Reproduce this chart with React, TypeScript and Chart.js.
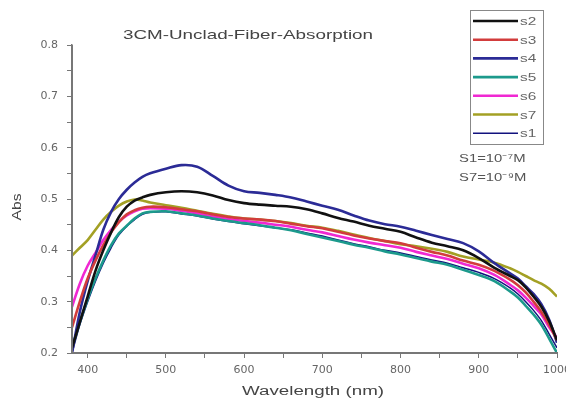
import React, { useEffect, useRef } from "react";
import { Chart, registerables } from "chart.js";

Chart.register(...registerables);

const wavelengths = [380, 390, 400, 410, 420, 430, 440, 450, 460, 470, 480, 500, 520, 540, 560, 580, 600, 620, 640, 660, 680, 700, 720, 740, 760, 780, 800, 820, 840, 860, 880, 900, 920, 940, 950, 960, 970, 980, 990, 1000];

const s2 = [0.21, 0.26, 0.31, 0.36, 0.40, 0.435, 0.465, 0.485, 0.497, 0.503, 0.508, 0.513, 0.515, 0.513, 0.507, 0.498, 0.492, 0.489, 0.487, 0.485, 0.480, 0.472, 0.463, 0.456, 0.448, 0.442, 0.436, 0.425, 0.415, 0.408, 0.400, 0.385, 0.366, 0.350, 0.342, 0.328, 0.310, 0.290, 0.262, 0.225];
const s3 = [0.25, 0.30, 0.345, 0.38, 0.41, 0.435, 0.455, 0.47, 0.478, 0.483, 0.485, 0.484, 0.480, 0.476, 0.470, 0.465, 0.462, 0.460, 0.457, 0.452, 0.447, 0.443, 0.436, 0.429, 0.423, 0.418, 0.414, 0.405, 0.397, 0.390, 0.380, 0.372, 0.360, 0.343, 0.332, 0.318, 0.300, 0.280, 0.255, 0.225];
const s4 = [0.20, 0.28, 0.34, 0.39, 0.44, 0.475, 0.50, 0.518, 0.532, 0.543, 0.550, 0.559, 0.566, 0.563, 0.545, 0.526, 0.515, 0.512, 0.508, 0.503, 0.495, 0.487, 0.479, 0.468, 0.458, 0.451, 0.446, 0.438, 0.430, 0.422, 0.414, 0.398, 0.375, 0.355, 0.345, 0.330, 0.315, 0.295, 0.265, 0.22];
const s5 = [0.21, 0.26, 0.305, 0.345, 0.38, 0.41, 0.433, 0.448, 0.462, 0.472, 0.475, 0.476, 0.472, 0.468, 0.462, 0.457, 0.453, 0.449, 0.444, 0.439, 0.432, 0.425, 0.418, 0.411, 0.405, 0.398, 0.392, 0.385, 0.378, 0.372, 0.362, 0.352, 0.340, 0.320, 0.308, 0.292, 0.275, 0.255, 0.228, 0.20];
const s6 = [0.29, 0.335, 0.37, 0.395, 0.42, 0.44, 0.456, 0.468, 0.476, 0.481, 0.482, 0.481, 0.477, 0.472, 0.466, 0.461, 0.457, 0.454, 0.450, 0.446, 0.440, 0.435, 0.428, 0.421, 0.415, 0.410, 0.405, 0.397, 0.390, 0.383, 0.374, 0.365, 0.352, 0.333, 0.322, 0.308, 0.292, 0.275, 0.250, 0.23];
const s7 = [0.39, 0.405, 0.42, 0.44, 0.46, 0.475, 0.487, 0.495, 0.499, 0.497, 0.493, 0.488, 0.483, 0.477, 0.471, 0.466, 0.462, 0.460, 0.457, 0.453, 0.448, 0.444, 0.438, 0.431, 0.424, 0.418, 0.412, 0.408, 0.403, 0.397, 0.388, 0.382, 0.376, 0.365, 0.358, 0.350, 0.342, 0.335, 0.325, 0.31];
const s1 = [0.20, 0.255, 0.30, 0.34, 0.375, 0.405, 0.43, 0.447, 0.46, 0.47, 0.474, 0.475, 0.471, 0.467, 0.461, 0.456, 0.452, 0.448, 0.444, 0.44, 0.434, 0.428, 0.42, 0.413, 0.407, 0.40, 0.395, 0.388, 0.381, 0.375, 0.366, 0.357, 0.345, 0.327, 0.315, 0.30, 0.283, 0.263, 0.237, 0.21];

const seriesNames = ["s2", "s3", "s4", "s5", "s6", "s7", "s1"];
const seriesValues = [s2, s3, s4, s5, s6, s7, s1];
const seriesColors = ["#111111", "#d23c3c", "#2b2b96", "#1c9a8c", "#f028d2", "#a3a024", "#12127e"];
const seriesWidths = [2.6, 2.6, 2.6, 2.6, 2.6, 2.6, 1.5];

const xTicks = [400, 450, 500, 550, 600, 650, 700, 750, 800, 850, 900, 950, 1000];
const yTicks = [0.2, 0.25, 0.3, 0.35, 0.4, 0.45, 0.5, 0.55, 0.6, 0.65, 0.7, 0.75, 0.8];

const titleText = "3CM-Unclad-Fiber-Absorption";
const xAxisTitle = "Wavelength (nm)";
const yAxisTitle = "Abs";
const noteLines = ["S1=10\u207B\u2077M", "S7=10\u207B\u2079M"];

const FONT = "'Liberation Sans', Arial, sans-serif";
const TICK_FONT = "'DejaVu Sans', sans-serif";

function drawText(ctx: any, text: string, x: number, y: number, align: string, sx: number, rot = 0) {
  ctx.save();
  ctx.translate(x, y);
  if (rot) ctx.rotate(rot);
  ctx.scale(sx, 1);
  ctx.textAlign = align;
  ctx.textBaseline = "middle";
  ctx.fillText(text, 0, 0);
  ctx.restore();
}

function drawFit(ctx: any, text: string, x: number, y: number, width: number, rot = 0) {
  const w = ctx.measureText(text).width;
  drawText(ctx, text, x, y, "center", width / w, rot);
}

const overlayPlugin = {
  id: "overlay",
  afterDraw(chart: any) {
    const ctx = chart.ctx;
    const area = chart.chartArea;
    ctx.save();
    // axis lines (backup, drawn over the library border)
    ctx.fillStyle = "#777";
    ctx.fillRect(Math.round(area.left) - 1, Math.round(area.top), 2, Math.round(area.bottom - area.top) + 1);
    ctx.fillRect(Math.round(area.left) - 1, Math.round(area.bottom) - 1, Math.round(area.right - area.left) + 2, 2);

    // axis titles
    ctx.fillStyle = "#444";
    ctx.font = `12px ${FONT}`;
    drawFit(ctx, xAxisTitle, 313, 392, 142);
    drawFit(ctx, yAxisTitle, 18, 207, 27, -Math.PI / 2);

    // title
    ctx.font = `13px ${FONT}`;
    drawFit(ctx, titleText, 248, 35, 250);

    // legend box
    const bx = 470, by = 10, bw = 73, bh = 134;
    ctx.strokeStyle = "#888";
    ctx.lineWidth = 1;
    ctx.strokeRect(bx + 0.5, by + 0.5, bw, bh);
    ctx.font = `11px ${FONT}`;
    chart.data.datasets.forEach((ds: any, i: number) => {
      const y = by + 11 + i * 18.7;
      ctx.strokeStyle = ds.borderColor;
      ctx.lineWidth = ds.borderWidth;
      ctx.beginPath();
      ctx.moveTo(bx + 3, y);
      ctx.lineTo(bx + 48, y);
      ctx.stroke();
      ctx.fillStyle = "#666";
      drawText(ctx, ds.label, bx + 50, y + 1, "left", 1.4);
    });

    // notes
    ctx.fillStyle = "#555";
    ctx.font = `11px ${FONT}`;
    noteLines.forEach((t, i) => drawText(ctx, t, 459, 159 + i * 19, "left", 1.35));
    ctx.restore();
  },
};

export default function App() {
  const ref = useRef<HTMLCanvasElement>(null);
  useEffect(() => {
    document.body.style.margin = "0";
    const chart = new Chart(ref.current!, {
      type: "line",
      data: {
        datasets: seriesNames.map((name, i) => ({
          label: name,
          data: wavelengths.map((x, j) => ({ x, y: seriesValues[i][j] })),
          borderColor: seriesColors[i],
          backgroundColor: seriesColors[i],
          borderWidth: seriesWidths[i],
          pointRadius: 0,
          tension: 0.35,
          fill: false,
        })),
      },
      options: {
        animation: false,
        responsive: false,
        layout: { padding: { top: 45, right: 9, left: 0, bottom: 0 } },
        plugins: {
          legend: { display: false },
          title: { display: false },
          tooltip: { enabled: false },
        },
        scales: {
          x: {
            type: "linear",
            min: 380,
            max: 1000,
            afterBuildTicks: (s: any) => {
              s.ticks = xTicks.map((v) => ({ value: v }));
            },
            afterFit: (s: any) => {
              s.height = 49;
              s.paddingRight = 0;
            },
            grid: { drawOnChartArea: false, drawTicks: true, tickLength: 5, color: "#777" },
            border: { display: true, color: "#777", width: 1.5 },
            ticks: {
              autoSkip: false,
              maxRotation: 0,
              color: "#666",
              font: { size: 11, family: TICK_FONT },
              padding: 6,
              callback: (v: any) => (v % 100 === 0 ? String(v) : ""),
            },
          },
          y: {
            type: "linear",
            min: 0.2,
            max: 0.8,
            afterBuildTicks: (s: any) => {
              s.ticks = yTicks.map((v) => ({ value: v }));
            },
            afterFit: (s: any) => {
              s.width = 72;
            },
            grid: { drawOnChartArea: false, drawTicks: true, tickLength: 5, color: "#777" },
            border: { display: true, color: "#777", width: 1.5 },
            ticks: {
              autoSkip: false,
              color: "#666",
              font: { size: 11, family: TICK_FONT },
              padding: 9,
              callback: (v: any) => {
                const r = Math.round(v * 100);
                return r % 10 === 0 ? (r / 100).toFixed(1) : "";
              },
            },
          },
        },
      },
      plugins: [overlayPlugin],
    } as any);
    return () => chart.destroy();
  }, []);
  return (
    <div style={{ width: 566, height: 402, background: "#fff" }}>
      <canvas ref={ref} width={566} height={402} style={{ display: "block" }} />
    </div>
  );
}
